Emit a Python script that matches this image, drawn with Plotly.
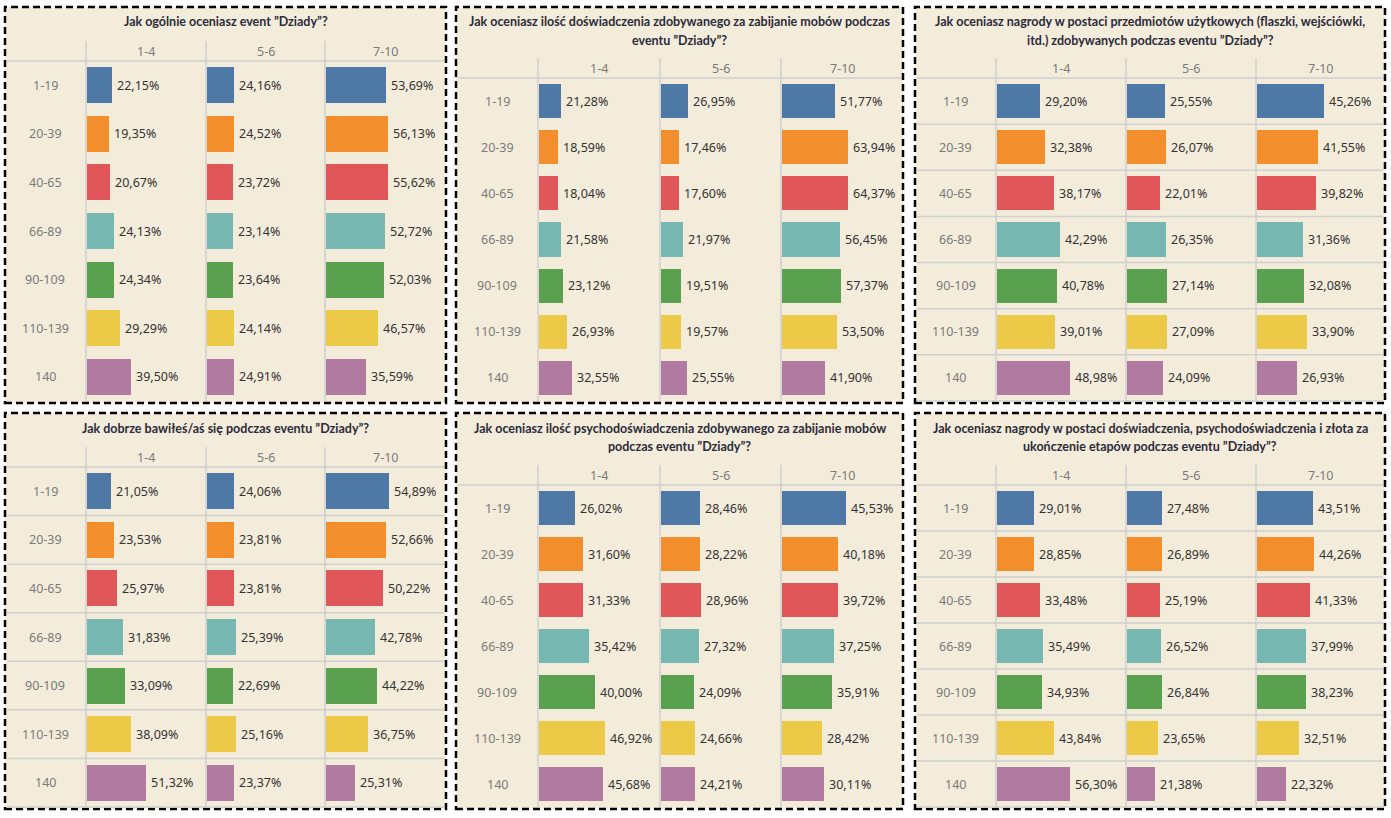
import plotly.graph_objects as go

W, H = 1391, 818

rows = ["1-19", "20-39", "40-65", "66-89", "90-109", "110-139", "140"]
cols = ["1-4", "5-6", "7-10"]
row_colors = ["#4e79a7", "#f28e2b", "#e15759", "#76b7b2", "#59a14f", "#edc948", "#b07aa1"]

titles = [
    "Jak ogólnie oceniasz event ”Dziady”?",
    "Jak oceniasz ilość doświadczenia zdobywanego za zabijanie mobów podczas<br>eventu ”Dziady”?",
    "Jak oceniasz nagrody w postaci przedmiotów użytkowych (flaszki, wejściówki,<br>itd.) zdobywanych podczas eventu ”Dziady”?",
    "Jak dobrze bawiłeś/aś się podczas eventu ”Dziady”?",
    "Jak oceniasz ilość psychodoświadczenia zdobywanego za zabijanie mobów<br>podczas eventu ”Dziady”?",
    "Jak oceniasz nagrody w postaci doświadczenia, psychodoświadczenia i złota za<br>ukończenie etapów podczas eventu ”Dziady”?",
]

p1_14 = [22.15, 19.35, 20.67, 24.13, 24.34, 29.29, 39.50]
p1_56 = [24.16, 24.52, 23.72, 23.14, 23.64, 24.14, 24.91]
p1_710 = [53.69, 56.13, 55.62, 52.72, 52.03, 46.57, 35.59]

p2_14 = [21.28, 18.59, 18.04, 21.58, 23.12, 26.93, 32.55]
p2_56 = [26.95, 17.46, 17.60, 21.97, 19.51, 19.57, 25.55]
p2_710 = [51.77, 63.94, 64.37, 56.45, 57.37, 53.50, 41.90]

p3_14 = [29.20, 32.38, 38.17, 42.29, 40.78, 39.01, 48.98]
p3_56 = [25.55, 26.07, 22.01, 26.35, 27.14, 27.09, 24.09]
p3_710 = [45.26, 41.55, 39.82, 31.36, 32.08, 33.90, 26.93]

p4_14 = [21.05, 23.53, 25.97, 31.83, 33.09, 38.09, 51.32]
p4_56 = [24.06, 23.81, 23.81, 25.39, 22.69, 25.16, 23.37]
p4_710 = [54.89, 52.66, 50.22, 42.78, 44.22, 36.75, 25.31]

p5_14 = [26.02, 31.60, 31.33, 35.42, 40.00, 46.92, 45.68]
p5_56 = [28.46, 28.22, 28.96, 27.32, 24.09, 24.66, 24.21]
p5_710 = [45.53, 40.18, 39.72, 37.25, 35.91, 28.42, 30.11]

p6_14 = [29.01, 28.85, 33.48, 35.49, 34.93, 43.84, 56.30]
p6_56 = [27.48, 26.89, 25.19, 26.52, 26.84, 23.65, 21.38]
p6_710 = [43.51, 44.26, 41.33, 37.99, 38.23, 32.51, 22.32]

panel_values = [
    [p1_14, p1_56, p1_710],
    [p2_14, p2_56, p2_710],
    [p3_14, p3_56, p3_710],
    [p4_14, p4_56, p4_710],
    [p5_14, p5_56, p5_710],
    [p6_14, p6_56, p6_710],
]

panels = [
    dict(L=5, R=446, T=7, B=403, xs=[86, 206, 325, 445], hdr=61, vtop=41, title_y=[22], colhdr_y=51, rmax=107, rowlines=False),
    dict(L=456, R=903, T=7, B=403, xs=[538, 660, 781, 903], hdr=78, vtop=58, title_y=[22, 40], colhdr_y=68, rmax=118, rowlines=False),
    dict(L=915, R=1385, T=7, B=403, xs=[996, 1126, 1256, 1385], hdr=78, vtop=58, title_y=[22, 40], colhdr_y=68, rmax=87, rowlines=True),
    dict(L=5, R=446, T=413, B=809, xs=[86, 206, 325, 445], hdr=467, vtop=447, title_y=[428], colhdr_y=457, rmax=104, rowlines=True),
    dict(L=456, R=903, T=413, B=809, xs=[538, 660, 781, 903], hdr=485, vtop=465, title_y=[428, 446], colhdr_y=475, rmax=86.5, rowlines=False),
    dict(L=915, R=1385, T=413, B=809, xs=[996, 1126, 1256, 1385], hdr=485, vtop=465, title_y=[428, 446], colhdr_y=475, rmax=100, rowlines=True),
]

BG = "#f3ecdb"
GRID = "#cfcfcf"
TFONT = "Lato"
LFONT = "Noto Sans"


def fx(x):
    return x / W


def fy(y):
    return 1 - y / H


fig = go.Figure()
shapes = []
annotations = []
layout_axes = {}

for pi, (pn, vals) in enumerate(zip(panels, panel_values)):
    shapes.append(dict(type="rect", xref="paper", yref="paper",
                       x0=fx(pn["L"]), x1=fx(pn["R"]), y0=fy(pn["B"]), y1=fy(pn["T"]),
                       fillcolor=BG, line=dict(color="black", width=2.5, dash="7px,4px"),
                       layer="below"))
    for x in pn["xs"][:-1]:
        shapes.append(dict(type="line", xref="paper", yref="paper",
                           x0=fx(x), x1=fx(x), y0=fy(pn["B"] - 2), y1=fy(pn["vtop"]),
                           line=dict(color=GRID, width=1.5), layer="below"))
    shapes.append(dict(type="line", xref="paper", yref="paper",
                       x0=fx(pn["L"] + 2), x1=fx(pn["R"] - 2), y0=fy(pn["hdr"]), y1=fy(pn["hdr"]),
                       line=dict(color=GRID, width=1.5), layer="below"))
    step = (pn["B"] - 2 - pn["hdr"]) / len(rows)
    if pn["rowlines"]:
        for r in range(1, len(rows) + 1):
            y = pn["hdr"] + step * r
            shapes.append(dict(type="line", xref="paper", yref="paper",
                               x0=fx(pn["L"] + 2), x1=fx(pn["R"] - 2), y0=fy(y), y1=fy(y),
                               line=dict(color=GRID, width=1.5), layer="below"))
    lines = titles[pi].split("<br>")
    for txt, ty in zip(lines, pn["title_y"]):
        annotations.append(dict(text="<b>" + txt + "</b>", xref="paper", yref="paper",
                                x=fx((pn["L"] + pn["R"]) / 2), y=fy(ty), xanchor="center", yanchor="middle",
                                showarrow=False, font=dict(family=TFONT, size=12.5, color="#2b2b3a")))
    for ci, c in enumerate(cols):
        annotations.append(dict(text=c, xref="paper", yref="paper",
                                x=fx((pn["xs"][ci] + pn["xs"][ci + 1]) / 2), y=fy(pn["colhdr_y"]),
                                xanchor="center", yanchor="middle", showarrow=False,
                                font=dict(family=LFONT, size=12.5, color="#7a7a7a")))
    for ri, r in enumerate(rows):
        annotations.append(dict(text=r, xref="paper", yref="paper",
                                x=fx((pn["L"] + pn["xs"][0]) / 2), y=fy(pn["hdr"] + step * (ri + 0.5)),
                                xanchor="center", yanchor="middle", showarrow=False,
                                font=dict(family=LFONT, size=12.5, color="#7a7a7a")))
    for ci in range(3):
        k = pi * 3 + ci + 1
        xa = "x" if k == 1 else f"x{k}"
        ya = "y" if k == 1 else f"y{k}"
        v = vals[ci]
        fig.add_trace(go.Bar(
            x=v, y=rows, orientation="h", xaxis=xa, yaxis=ya,
            marker=dict(color=row_colors, line=dict(width=0)),
            width=0.74, hoverinfo="skip", showlegend=False,
        ))
        for ri, val in enumerate(v):
            annotations.append(dict(text=f"{val:.2f}%".replace(".", ","), xref=xa, yref=ya,
                                    x=val, y=ri, xanchor="left", yanchor="middle", xshift=3,
                                    showarrow=False,
                                    font=dict(family=LFONT, size=12.5, color="#333333")))
        layout_axes["xaxis" if k == 1 else f"xaxis{k}"] = dict(
            domain=[fx(pn["xs"][ci] + 1), fx(pn["xs"][ci + 1])], range=[0, pn["rmax"]],
            visible=False, anchor=ya, fixedrange=True)
        layout_axes["yaxis" if k == 1 else f"yaxis{k}"] = dict(
            domain=[fy(pn["B"] - 2), fy(pn["hdr"])], type="category",
            categoryorder="array", categoryarray=rows, range=[6.5, -0.5],
            visible=False, anchor=xa, fixedrange=True)

fig.update_layout(
    width=W, height=H, margin=dict(l=0, r=0, t=0, b=0),
    paper_bgcolor="white", plot_bgcolor="rgba(0,0,0,0)",
    shapes=shapes, annotations=annotations, showlegend=False,
    bargap=0, **layout_axes,
)

fig.write_html("out.html")
